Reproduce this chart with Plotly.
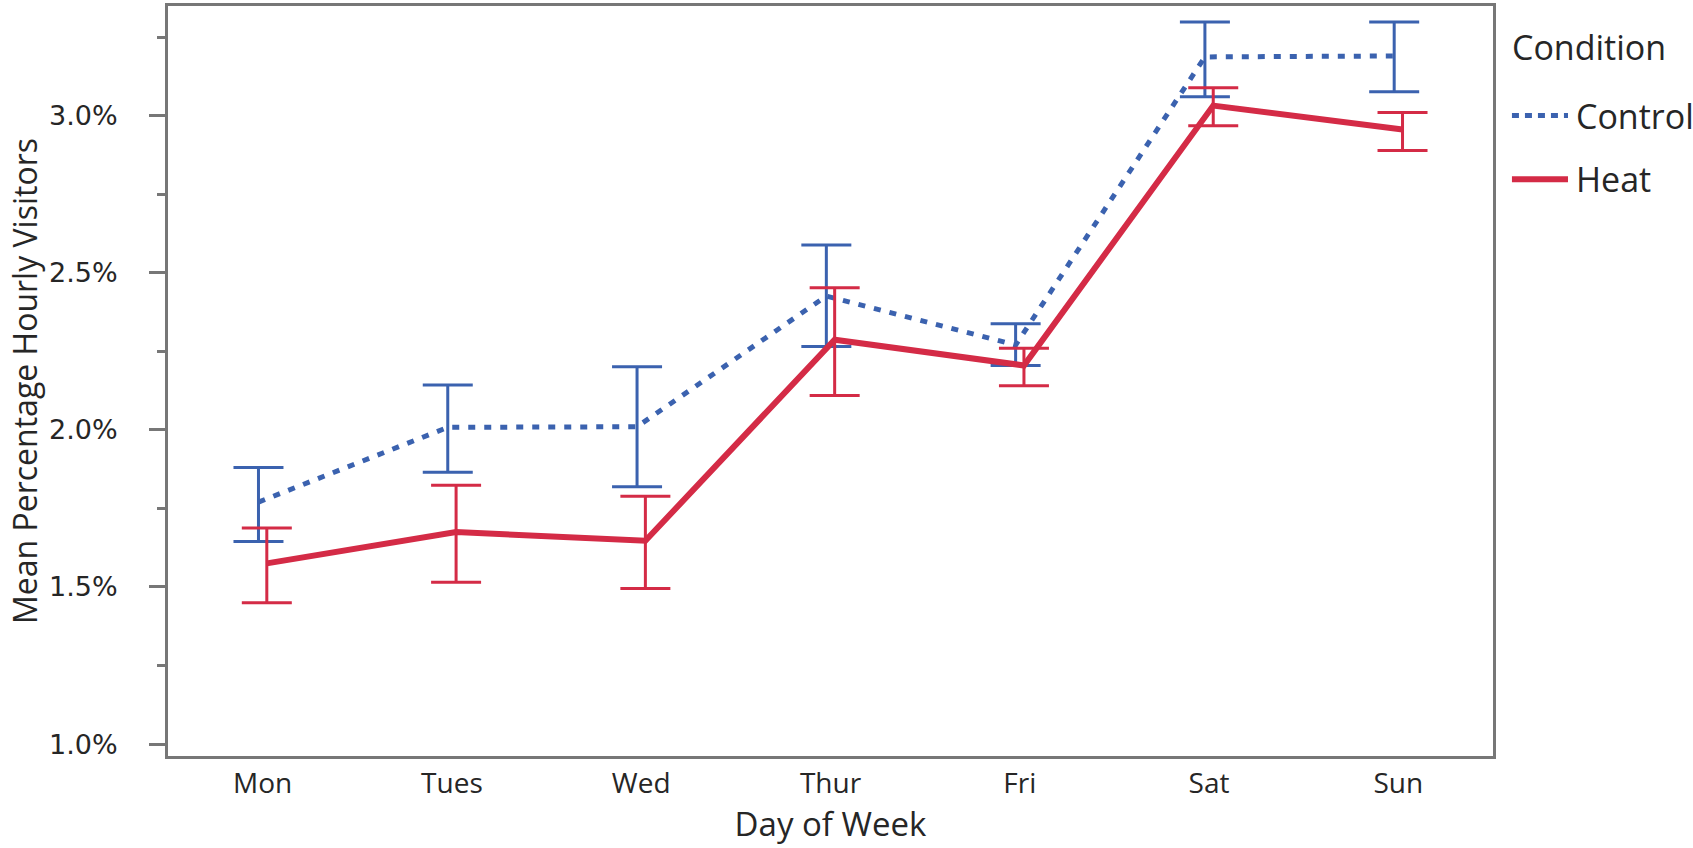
import numpy as np
import plotly.graph_objects as go

days = ["Mon", "Tues", "Wed", "Thur", "Fri", "Sat", "Sun"]
control_mean = [1.77, 2.008, 2.01, 2.426, 2.27, 3.187, 3.19]
control_upper = [1.88, 2.143, 2.201, 2.588, 2.338, 3.298, 3.298]
control_lower = [1.645, 1.865, 1.819, 2.265, 2.205, 3.06, 3.076]
heat_mean = [1.575, 1.675, 1.647, 2.287, 2.205, 3.032, 2.956]
heat_upper = [1.688, 1.824, 1.789, 2.452, 2.26, 3.089, 3.01]
heat_lower = [1.45, 1.515, 1.495, 2.109, 2.14, 2.968, 2.889]
y_ticks = [1.0, 1.5, 2.0, 2.5, 3.0]
y_tick_labels = ["1.0%", "1.5%", "2.0%", "2.5%", "3.0%"]

BLUE = "#3B62AF"
RED = "#D42B46"
AXIS = "#777777"
TEXT = "#262626"
FONT = "Open Sans"

idx = np.arange(len(days))
dodge = 0.022

def err(mean, up, lo):
    m = np.array(mean)
    return np.array(up) - m, m - np.array(lo)

fig = go.Figure()
cu, cl = err(control_mean, control_upper, control_lower)
hu, hl = err(heat_mean, heat_upper, heat_lower)

fig.add_trace(go.Scatter(
    x=idx - dodge, y=control_mean, mode="lines", name="Control",
    line=dict(color=BLUE, width=5, dash="7px,9px"),
    error_y=dict(type="data", symmetric=False, array=cu, arrayminus=cl,
                 color=BLUE, thickness=3, width=25),
    showlegend=False,
))
fig.add_trace(go.Scatter(
    x=idx + dodge, y=heat_mean, mode="lines", name="Heat",
    line=dict(color=RED, width=6),
    error_y=dict(type="data", symmetric=False, array=hu, arrayminus=hl,
                 color=RED, thickness=3, width=25),
    showlegend=False,
))

fig.update_layout(
    width=1693, height=848,
    margin=dict(l=168, r=200, t=3, b=92),
    paper_bgcolor="white", plot_bgcolor="white",
    font=dict(family=FONT, color=TEXT, size=28),
)
fig.update_xaxes(
    range=[-0.5, 6.5], tickvals=list(idx), ticktext=days,
    showgrid=False, zeroline=False,
    showline=True, linecolor=AXIS, linewidth=3, mirror=True,
    ticks="", tickfont=dict(size=28, family=FONT, color=TEXT),
    title=dict(text="Day of Week", font=dict(size=33, family=FONT, color=TEXT), standoff=8),
)
fig.update_yaxes(
    range=[0.962, 3.349], tickvals=y_ticks, ticktext=y_tick_labels,
    showgrid=False, zeroline=False,
    showline=True, linecolor=AXIS, linewidth=3, mirror=True,
    ticks="outside", ticklen=16, tickwidth=3, tickcolor=AXIS,
    ticklabelstandoff=26,
    minor=dict(dtick=0.25, tick0=0, ticks="outside", ticklen=8, tickwidth=3, tickcolor=AXIS),
    tickfont=dict(size=27, family="DejaVu Sans", color=TEXT),
    title=dict(text="Mean Percentage Hourly Visitors", font=dict(size=32, family=FONT, color=TEXT), standoff=2),
)

# legend (drawn manually to match position)
fig.add_annotation(xref="paper", yref="paper", x=1, xshift=17, y=0.9455,
                   text="Condition", showarrow=False, xanchor="left", yanchor="middle",
                   font=dict(size=34, family=FONT, color=TEXT))
for name, color, dash, w, yy in [("Control", BLUE, "7px,6px", 5, 0.854), ("Heat", RED, "solid", 6, 0.769)]:
    fig.add_shape(type="line", xref="paper", yref="paper", x0=1.0143, x1=1.0566, y0=yy, y1=yy,
                  line=dict(color=color, width=w, dash=dash))
    fig.add_annotation(xref="paper", yref="paper", x=1.0615, y=yy, text=name, showarrow=False,
                       xanchor="left", yanchor="middle", font=dict(size=34, family=FONT, color=TEXT))

fig.write_html("out.html", config={"displayModeBar": False},
               post_script="document.body.style.margin='0';")
